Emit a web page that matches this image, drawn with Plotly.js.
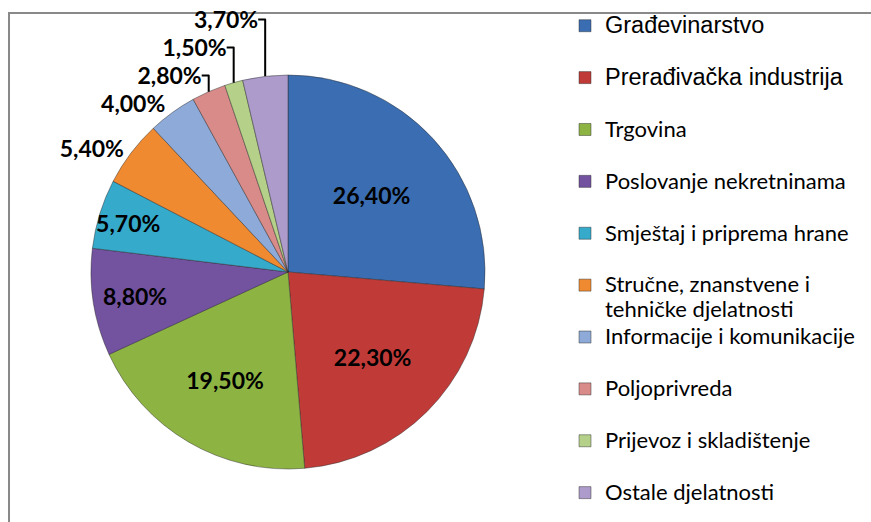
<!DOCTYPE html>
<html>
<head>
<meta charset="utf-8">
<script src="https://cdn.plot.ly/plotly-3.0.1.min.js"></script>
<style>
  html, body { margin: 0; padding: 0; background: #ffffff; }
  #chart { width: 871px; height: 522px; }
</style>
</head>
<body>
<div id="chart"></div>
<script>
// ---- data ----
const categories = [
  "Građevinarstvo",
  "Prerađivačka industrija",
  "Trgovina",
  "Poslovanje nekretninama",
  "Smještaj i priprema hrane",
  "Stručne, znanstvene i<br>tehničke djelatnosti",
  "Informacije i komunikacije",
  "Poljoprivreda",
  "Prijevoz i skladištenje",
  "Ostale djelatnosti"
];
const shares = [26.4, 22.3, 19.5, 8.8, 5.7, 5.4, 4.0, 2.8, 1.5, 3.7];
const sliceColors = [
  "#3a6db2", "#c03b38", "#8db443", "#7352a0", "#35aacb",
  "#f08a31", "#8eaad8", "#d98b89", "#b5d088", "#ad9bcb"
];
const labelPositions = ["inside","inside","inside","inside","inside",
                        "outside","outside","outside","outside","outside"];

// ---- presentation helpers ----
const arialItems = 2; // first legend entries are set in Arial in the original
function legendLabel(c, i) {
  const fam = i < arialItems ? "Liberation Sans, Arial, sans-serif" : "Lato, sans-serif";
  const sz = i < arialItems ? 23.5 : 22;
  const lines = c.split("<br>").map(l => `<span style="font-family:${fam};font-size:${sz}px">${l}</span>`);
  if (lines.length === 1) lines.push("\u00a0");
  return lines.join("<br>");
}
const displayLabels = categories.map(legendLabel);
const valueText = shares.map(v => v.toFixed(2).replace(".", ",") + "%");

const W = 871, H = 522;
const cx = 288, cy = 272, r = 197;

const trace = {
  type: "pie",
  labels: displayLabels,
  values: shares,
  text: valueText,
  textinfo: "text",
  textposition: labelPositions,
  insidetextorientation: "horizontal",
  sort: false,
  direction: "clockwise",
  rotation: 0,
  marker: { colors: sliceColors, line: { color: "rgba(40,40,40,0.45)", width: 1 } },
  textfont: { family: "Lato, sans-serif", size: 23, color: "#000000", weight: "bold" },
  domain: {
    x: [(cx - r) / W, (cx + r) / W],
    y: [(H - cy - r) / H, (H - cy + r) / H]
  },
  hoverinfo: "label+percent"
};

const layout = {
  width: W, height: H,
  margin: { l: 0, r: 0, t: 0, b: 0, autoexpand: false },
  paper_bgcolor: "#ffffff",
  showlegend: true,
  uniformtext: { mode: "show", minsize: 23 },
  legend: {
    x: 565 / W, xanchor: "left",
    y: 1 - 7 / H, yanchor: "top",
    font: { family: "Lato, sans-serif", size: 18.8, color: "#000000" },
    itemwidth: 30,
    valign: "top",
    maxheight: 900,
    bgcolor: "rgba(0,0,0,0)",
    traceorder: "normal"
  },
  shapes: [{
    type: "rect", xref: "paper", yref: "paper",
    x0: 9 / W, x1: 1.02, y0: -0.02, y1: 1 - 13 / H,
    line: { color: "#898989", width: 2 }, fillcolor: "rgba(0,0,0,0)", layer: "below"
  }]
};

Plotly.newPlot("chart", [trace], layout, { displayModeBar: false, staticPlot: true });
</script>
</body>
</html>
